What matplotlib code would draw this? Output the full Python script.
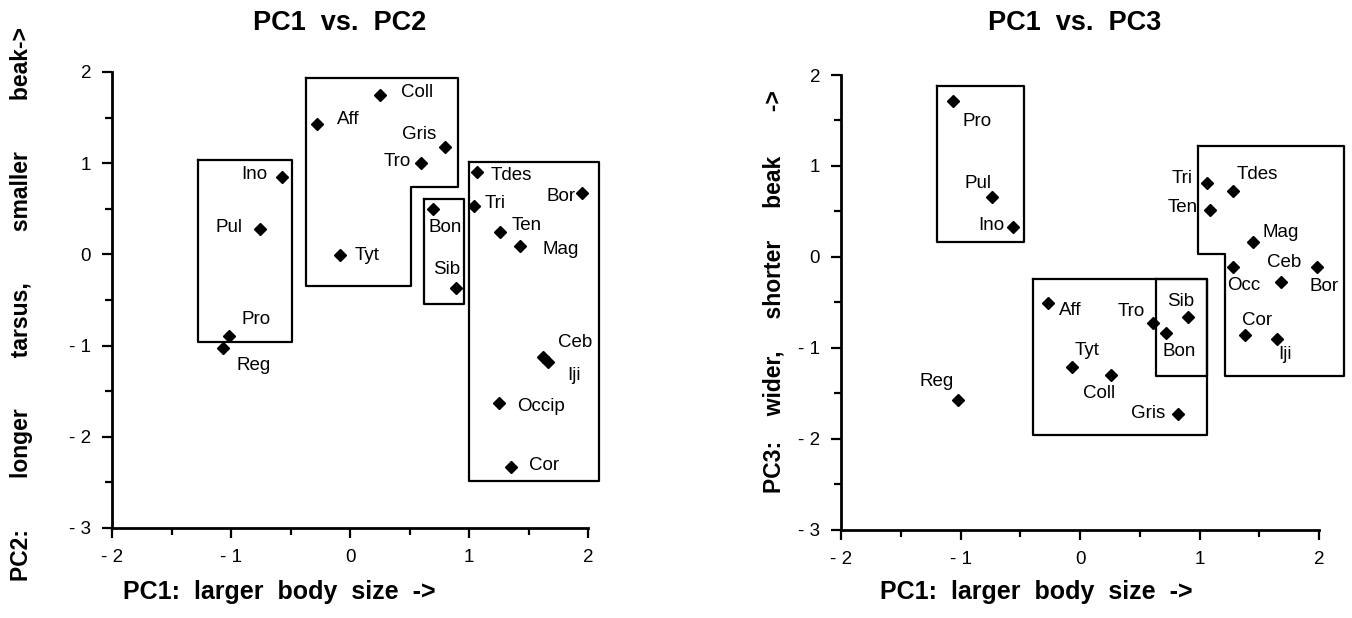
import matplotlib
matplotlib.use("Agg")
import matplotlib.pyplot as plt
from matplotlib.ticker import MultipleLocator

# --- data ---
names_pc2 = ['Coll', 'Aff', 'Gris', 'Tro', 'Ino', 'Tdes', 'Bor', 'Tri', 'Bon', 'Pul',
             'Ten', 'Mag', 'Tyt', 'Sib', 'Pro', 'Reg', 'Ceb', 'Iji', 'Occip', 'Cor']
pc1_a = [0.25, -0.28, 0.80, 0.60, -0.57, 1.07, 1.95, 1.04, 0.70, -0.76,
         1.26, 1.43, -0.08, 0.89, -1.02, -1.07, 1.62, 1.66, 1.25, 1.35]
pc2 = [1.75, 1.43, 1.18, 1.00, 0.85, 0.90, 0.67, 0.53, 0.50, 0.28,
       0.25, 0.09, -0.01, -0.37, -0.89, -1.03, -1.13, -1.18, -1.63, -2.33]

names_pc3 = ['Pro', 'Pul', 'Ino', 'Tri', 'Tdes', 'Ten', 'Mag', 'Occ', 'Bor', 'Ceb',
             'Aff', 'Tro', 'Sib', 'Bon', 'Tyt', 'Coll', 'Reg', 'Gris', 'Cor', 'Iji']
pc1_b = [-1.06, -0.74, -0.56, 1.06, 1.28, 1.09, 1.45, 1.28, 1.98, 1.68,
         -0.27, 0.61, 0.90, 0.72, -0.07, 0.26, -1.02, 0.82, 1.38, 1.65]
pc3 = [1.71, 0.66, 0.33, 0.81, 0.73, 0.52, 0.16, -0.11, -0.11, -0.27,
       -0.51, -0.72, -0.66, -0.83, -1.21, -1.30, -1.57, -1.72, -0.86, -0.90]

# group outlines (data units)
groups_pc2 = [
    [(-1.28, 1.03), (-0.49, 1.03), (-0.49, -0.96), (-1.28, -0.96)],
    [(-0.37, 1.93), (0.91, 1.93), (0.91, 0.74), (0.51, 0.74), (0.51, -0.345), (-0.37, -0.345)],
    [(0.625, 0.61), (0.955, 0.61), (0.955, -0.54), (0.625, -0.54)],
    [(1.0, 1.01), (2.09, 1.01), (2.09, -2.48), (1.0, -2.48)],
]
groups_pc3 = [
    [(-1.20, 1.88), (-0.47, 1.88), (-0.47, 0.16), (-1.20, 0.16)],
    [(-0.395, -0.24), (1.06, -0.24), (1.06, -1.96), (-0.395, -1.96)],
    [(0.64, -0.24), (1.06, -0.24), (1.06, -1.31), (0.64, -1.31)],
    [(0.99, 1.22), (2.21, 1.22), (2.21, -1.31), (1.21, -1.31), (1.21, 0.03), (0.99, 0.03)],
]

xticks = [-2, -1, 0, 1, 2]
xtick_labels = ['- 2', '- 1', '0', '1', '2']
yticks = [-3, -2, -1, 0, 1, 2]
ytick_labels = ['- 3', '- 2', '- 1', '0', '1', '2']

# label placement: (ha, dx px, dy px)
lab_pc2 = {
    'Coll': ('left', 21, 2), 'Aff': ('left', 20, 4), 'Gris': ('right', -9, 12),
    'Tro': ('right', -11, 2), 'Ino': ('right', -15, 2), 'Pul': ('right', -17, 1),
    'Tyt': ('left', 14, 0), 'Tdes': ('left', 13, -3), 'Tri': ('left', 11, 3),
    'Bor': ('right', -6, -3), 'Bon': ('left', -5, -19), 'Ten': ('left', 12, 6),
    'Mag': ('left', 22, -3), 'Sib': ('right', 4, 19), 'Pro': ('left', 13, 16),
    'Reg': ('left', 14, -17), 'Ceb': ('left', 15, 15), 'Iji': ('left', 20, -13),
    'Occip': ('left', 18, -3), 'Cor': ('left', 18, 1),
}
lab_pc3 = {
    'Pro': ('left', 9, -20), 'Pul': ('right', 0, 13), 'Ino': ('right', -9, 1),
    'Tri': ('right', -14, 5), 'Tdes': ('left', 4, 16), 'Ten': ('right', -13, 2),
    'Mag': ('left', 9, 10), 'Ceb': ('center', 3, 19), 'Bor': ('left', -7, -19),
    'Occ': ('left', -6, -18), 'Aff': ('left', 11, -7), 'Tro': ('right', -8, 11),
    'Sib': ('center', -7, 16), 'Bon': ('left', -4, -19), 'Tyt': ('left', 3, 17),
    'Coll': ('center', -12, -18), 'Reg': ('right', -4, 18), 'Gris': ('right', -13, 0),
    'Cor': ('left', -3, 15), 'Iji': ('left', 1, -16),
}

plt.rcParams['font.family'] = ['Liberation Sans', 'DejaVu Sans']

fig = plt.figure(figsize=(13.52, 6.18), dpi=100)
ax1 = fig.add_axes([112 / 1352, 1 - 528 / 618, 476 / 1352, 456 / 618])
ax2 = fig.add_axes([841 / 1352, 1 - 530 / 618, 478 / 1352, 455 / 618])


def draw_panel(ax, xs, ys, names, groups, labs):
    ax.plot(xs, ys, 'D', color='black', markersize=6.5, clip_on=False, zorder=3)
    for n, x, y in zip(names, xs, ys):
        ha, dx, dy = labs[n]
        ax.annotate(n, (x, y), xytext=(dx, dy), textcoords='offset pixels',
                    ha=ha, va='center', fontsize=13.5)
    for g in groups:
        gx = [p[0] for p in g] + [g[0][0]]
        gy = [p[1] for p in g] + [g[0][1]]
        ax.plot(gx, gy, color='black', lw=1.6, clip_on=False, zorder=2)
    ax.set_xlim(-2, 2)
    ax.set_ylim(-3, 2)
    for s in ['top', 'right']:
        ax.spines[s].set_visible(False)
    for s in ['left', 'bottom']:
        ax.spines[s].set_linewidth(2)
    ax.set_xticks(xticks)
    ax.set_xticklabels(xtick_labels)
    ax.set_yticks(yticks)
    ax.set_yticklabels(ytick_labels)
    ax.xaxis.set_minor_locator(MultipleLocator(0.5))
    ax.yaxis.set_minor_locator(MultipleLocator(0.5))
    ax.tick_params(which='major', length=7, width=1.6, labelsize=13.5, pad=8)
    ax.tick_params(which='minor', length=5, width=1.6)
    ax.patch.set_visible(False)


draw_panel(ax1, pc1_a, pc2, names_pc2, groups_pc2, lab_pc2)
draw_panel(ax2, pc1_b, pc3, names_pc3, groups_pc3, lab_pc3)

bold = dict(fontweight='bold', fontsize=19.5)
fig.text(340 / 1352, 1 - 23 / 618, 'PC1  vs.  PC2', ha='center', va='center', **bold)
fig.text(1075 / 1352, 1 - 23 / 618, 'PC1  vs.  PC3', ha='center', va='center', **bold)
xl = dict(fontweight='bold', fontsize=18)
fig.text(123 / 1352, 1 - 592 / 618, 'PC1:  larger  body  size  ->', ha='left', va='center', **xl)
fig.text(880 / 1352, 1 - 592 / 618, 'PC1:  larger  body  size  ->', ha='left', va='center', **xl)
fig.text(22 / 1352, 1 - 304 / 618,
         'PC2:' + ' ' * 8 + 'longer' + ' ' * 8 + 'tarsus,' + ' ' * 8 + 'smaller' + ' ' * 8 + 'beak->',
         rotation=90, ha='center', va='center', fontweight='bold', fontsize=16.5)
fig.text(774 / 1352, 1 - 292 / 618,
         'PC3:' + ' ' * 4 + 'wider,' + ' ' * 5 + 'shorter' + ' ' * 5 + 'beak' + ' ' * 7 + '->',
         rotation=90, ha='center', va='center', fontweight='bold', fontsize=16.5)

fig.savefig('out.png', dpi=100)
